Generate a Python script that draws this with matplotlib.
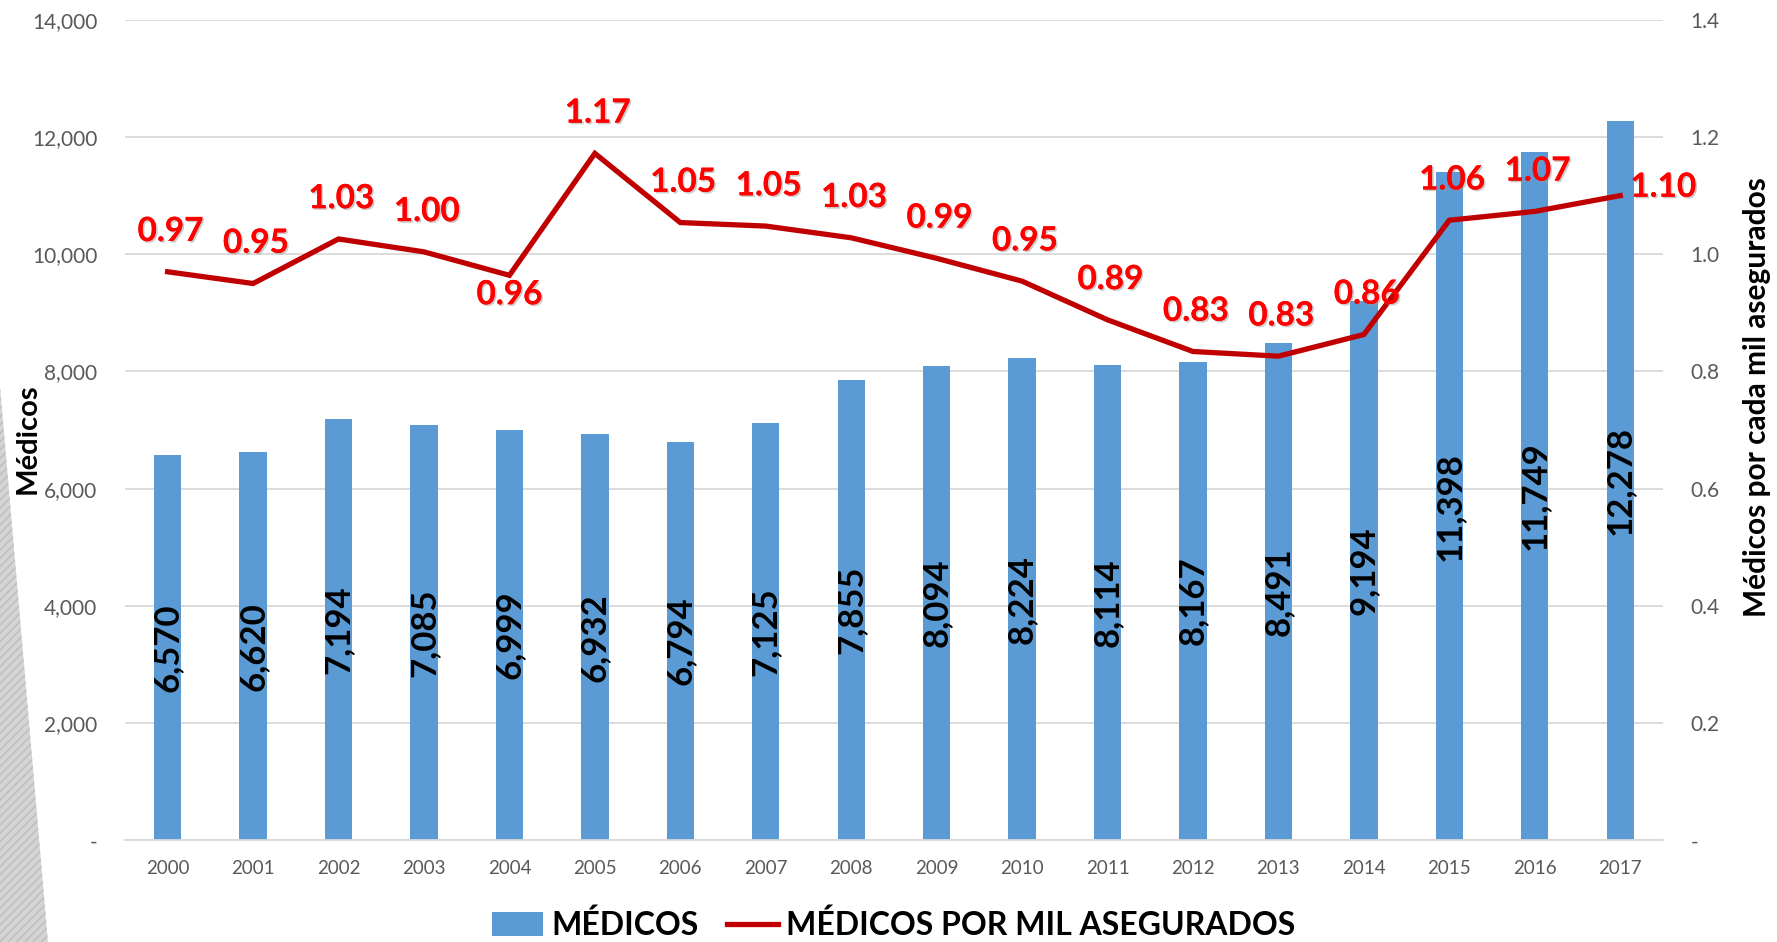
import matplotlib
matplotlib.use("Agg")
import matplotlib.pyplot as plt
import matplotlib.patheffects as pe
from matplotlib.patches import Polygon, Patch
from matplotlib.lines import Line2D
from matplotlib.ticker import FuncFormatter, MultipleLocator

plt.rcParams['font.family'] = ['Lato', 'DejaVu Sans']

years = ['2000', '2001', '2002', '2003', '2004', '2005', '2006', '2007', '2008',
         '2009', '2010', '2011', '2012', '2013', '2014', '2015', '2016', '2017']
medicos = [6570, 6620, 7194, 7085, 6999, 6932, 6794, 7125, 7855,
           8094, 8224, 8114, 8167, 8491, 9194, 11398, 11749, 12278]
por_mil = [0.970, 0.950, 1.026, 1.004, 0.964, 1.172, 1.054, 1.048, 1.028,
           0.993, 0.954, 0.888, 0.834, 0.826, 0.863, 1.058, 1.073, 1.100]

BLUE = '#5B9BD5'
DARKRED = '#C00000'
GRID = '#D9D9D9'
TICK = '#595959'

fig = plt.figure(figsize=(17.77, 9.42), dpi=100)

# decorative hatched band on the left edge
band = Polygon([(0, 0), (0, 0.59), (0.027, 0)], closed=True, transform=fig.transFigure,
               facecolor='#d4d4d4', edgecolor='#bcbcbc', hatch='////', lw=0, zorder=0)
fig.patches.append(band)

ax = fig.add_axes([0.0703, 0.108, 0.8655, 0.871])
ax2 = ax.twinx()

x = list(range(len(years)))
ax.bar(x, medicos, width=0.32, color=BLUE, zorder=2)
for i, v in enumerate(medicos):
    ax.text(i, v / 2, f'{v:,}', rotation=90, ha='center', va='center',
            fontsize=25, fontweight='bold', color='black', zorder=3)

ax.set_xlim(-0.5, len(years) - 0.5)
ax.set_ylim(0, 14000)
ax.yaxis.set_major_locator(MultipleLocator(2000))
ax.yaxis.set_major_formatter(FuncFormatter(lambda v, p: '-' if v == 0 else f'{v:,.0f}'))
ax.grid(axis='y', color=GRID, lw=1.3, zorder=0)
ax.set_axisbelow(True)
ax.set_xticks(x)
ax.set_xticklabels(years)
ax.tick_params(axis='x', length=0, pad=14, labelsize=13.5, labelcolor=TICK)
ax.tick_params(axis='y', length=0, pad=20, labelsize=15, labelcolor=TICK)
for s in ax.spines.values():
    s.set_visible(False)
ax.spines['bottom'].set_visible(True)
ax.spines['bottom'].set_color(GRID)
ax.spines['bottom'].set_linewidth(1.3)
ax.set_ylabel('Médicos', fontsize=21, fontweight='bold', color='black')
ax.yaxis.set_label_coords(-0.055, 0.49)

ax2.plot(x, por_mil, color=DARKRED, lw=3.8, solid_joinstyle='miter', zorder=4)
ax2.set_ylim(0, 1.4)
ax2.yaxis.set_major_locator(MultipleLocator(0.2))
ax2.yaxis.set_major_formatter(FuncFormatter(lambda v, p: '-' if abs(v) < 1e-9 else f'{v:.1f}'))
ax2.tick_params(axis='y', length=0, pad=20, labelsize=15, labelcolor=TICK)
for s in ax2.spines.values():
    s.set_visible(False)
ax2.set_ylabel('Médicos por cada mil asegurados', fontsize=21.5, fontweight='bold', color='black')
ax2.yaxis.set_label_coords(1.052, 0.54)

shadow = [pe.withSimplePatchShadow(offset=(1.2, -1.2), shadow_rgbFace='#999999', alpha=0.5),
          pe.Normal()]
for i, v in enumerate(por_mil):
    dx, dy = 2, 29
    if years[i] == '2004':
        dx, dy = 0, -14
    elif years[i] == '2017':
        dx, dy = 31, 6
    t = ax2.annotate(f'{v:.2f}', (i, v), xytext=(dx, dy), textcoords='offset points',
                     ha='center', va='center', fontsize=24, fontweight='bold',
                     color='#FF0000', zorder=5)
    t.set_path_effects(shadow)

handles = [Patch(facecolor=BLUE, edgecolor='none'),
           Line2D([0], [0], color=DARKRED, lw=3.8)]
fig.legend(handles, ['MÉDICOS', 'MÉDICOS POR MIL ASEGURADOS'], loc='center',
           bbox_to_anchor=(0.503, 0.018), ncol=2, frameon=False,
           prop={'size': 23, 'weight': 'bold'}, handlelength=1.6, handleheight=0.75,
           handletextpad=0.25, columnspacing=0.9)

fig.savefig('out.png', dpi=100)
